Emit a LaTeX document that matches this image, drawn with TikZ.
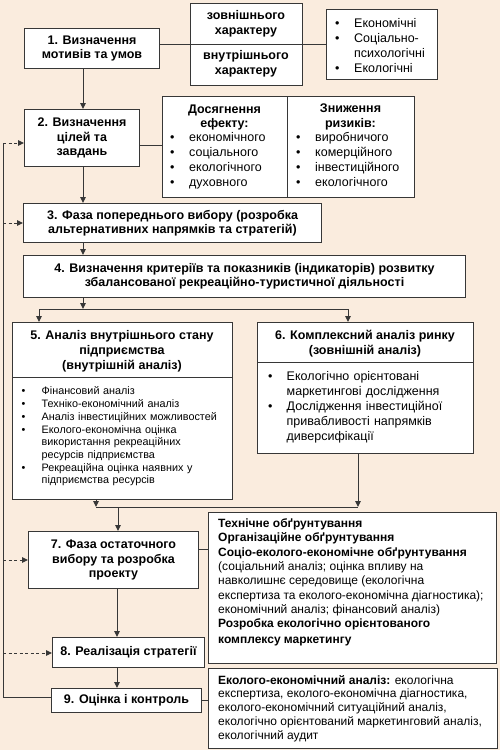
\documentclass[tikz,border=0pt]{standalone}
\usepackage{fontspec}
\setmainfont{Liberation Sans}
\usetikzlibrary{arrows.meta,calc}
\definecolor{bg}{RGB}{250,236,222}
\definecolor{ln}{RGB}{55,55,55}
\newcommand\bu[2]{\par\hangindent=#1\hangafter=1\noindent\makebox[#1][l]{\textbullet}#2\par}
\tikzset{
 bx/.style={draw=ln, fill=white, line width=1pt, inner sep=0pt, anchor=north west, align=center, font=\bfseries\fontsize{12.5}{14.5}\selectfont},
 txtb/.style={inner sep=0pt, align=center, font=\bfseries\fontsize{12.5}{14.8}\selectfont},
 lst/.style={inner sep=0pt, anchor=north west, align=left, text width=#1, font=\fontsize{12.5}{15}\selectfont},
 lsts/.style={inner sep=0pt, anchor=north west, align=left, text width=#1, font=\fontsize{10.8}{12.7}\selectfont},
 con/.style={draw=ln, line width=1pt},
 arr/.style={con, -{Triangle[length=6pt,width=5.5pt]}},
 darr/.style={arr, dash pattern=on 3pt off 2.5pt},
}
\begin{document}
\begin{tikzpicture}[x=1pt,y=-1pt]
\fill[bg] (0,0) rectangle (500,750);
\useasboundingbox (0,0) rectangle (500,750);
% column / row helpers
\coordinate (c83) at (83,0);
\coordinate (c117) at (117,0);
\coordinate (y44) at (0,44);
\coordinate (y145) at (0,145);
\coordinate (y549) at (0,549);
% boxes
\node[bx, minimum width=135pt, minimum height=40pt] (b1) at (24,28) {1. Визначення\\мотивів та умов};
\node[bx, minimum width=112pt, minimum height=82pt] (s) at (190,3) {};
\node[bx, minimum width=111pt, minimum height=70pt] (l1) at (326,9) {};
\node[bx, minimum width=115pt, minimum height=57pt] (b2) at (24,109) {2. Визначення\\цілей та\\завдань};
\node[bx, minimum width=252pt, minimum height=101pt] (g) at (162,96) {};
\node[bx, minimum width=298pt, minimum height=39pt] (b3) at (23,203) {3. Фаза попереднього вибору (розробка\\альтернативних напрямків та стратегій)};
\node[bx, minimum width=442pt, minimum height=42pt] (b4) at (23,255) {4. Визначення критеріїв та показників (індикаторів) розвитку\\збалансованої рекреаційно-туристичної діяльності};
\node[bx, minimum width=220pt, minimum height=177pt] (b5) at (12,322) {};
\node[bx, minimum width=216pt, minimum height=131pt] (b6) at (257,322) {};
\node[bx, minimum width=170pt, minimum height=57pt] (b7) at (28,531) {7. Фаза остаточного\\вибору та розробка\\проекту};
\node[bx, minimum width=288pt, minimum height=151pt] (t) at (208,512) {};
\node[bx, minimum width=152pt, minimum height=30pt] (b8) at (52,637) {8. Реалізація стратегії};
\node[bx, minimum width=150pt, minimum height=24pt] (b9) at (51,688) {9. Оцінка і контроль};
\node[bx, minimum width=289pt, minimum height=80pt] (e) at (208,668) {};
% texts in split boxes
\node[txtb] (s1) at (246,23.5) {зовнішнього\\характеру};
\node[txtb] (s2) at (246,64) {внутрішнього\\характеру};
\node[lst=105pt] (l1t) at (335,12.5) {\bu{19pt}{Економічні}\bu{19pt}{Соціально-\newline психологічні}\bu{19pt}{Екологічні}};
\draw[con] (g.north west) ++(125,0) -- ++(0,101);
\node[txtb] (g1) at (224.5,117.5) {Досягнення\\ефекту:};
\node[txtb] (g2) at (350.5,117) {Зниження\\ризиків:};
\node[lst=115pt] (g1t) at (170,126.5) {\bu{19pt}{економічного}\bu{19pt}{соціального}\bu{19pt}{екологічного}\bu{19pt}{духовного}};
\node[lst=115pt] (g2t) at (296,126.5) {\bu{19pt}{виробничого}\bu{19pt}{комерційного}\bu{19pt}{інвестиційного}\bu{19pt}{екологічного}};
% box 5
\draw[con] (b5.west |- 0,377) -- (b5.east |- 0,377);
\node[txtb] (b5h) at (122,351) {5. Аналіз внутрішнього стану\\підприємства\\(внутрішній аналіз)};
\node[lsts=205pt] (b5t) at (21.5,382) {\bu{20pt}{Фінансовий аналіз}\bu{20pt}{Техніко-економічний аналіз}\bu{20pt}{Аналіз інвестиційних можливостей}\bu{20pt}{Еколого-економічна оцінка\newline використання рекреаційних\newline ресурсів підприємства}\bu{20pt}{Рекреаційна оцінка наявних у\newline підприємства ресурсів}};
% box 6
\draw[con] (b6.west |- 0,362) -- (b6.east |- 0,362);
\node[txtb] (b6h) at (365,343.5) {6. Комплексний аналіз ринку\\(зовнішній аналіз)};
\node[lst=205pt] (b6t) at (268,365) {\bu{18.5pt}{Екологічно орієнтовані\newline маркетингові дослідження}\bu{18.5pt}{Дослідження інвестиційної\newline привабливості напрямків\newline диверсифікації}};
% box T
\node[inner sep=0pt, anchor=north west, align=left, font=\fontsize{12}{14.3}\selectfont] (tt) at (218,518.5) {\textbf{Технічне обґрунтування}\\\textbf{Організаційне обґрунтування}\\\textbf{Соціо-еколого-економічне обґрунтування}\\(соціальний аналіз; оцінка впливу на\\навколишнє середовище (екологічна\\експертиза та еколого-економічна діагностика);\\економічний аналіз; фінансовий аналіз)\\\textbf{Розробка екологічно орієнтованого}\\[1.5pt]\textbf{комплексу маркетингу}};
% box E
\node[inner sep=0pt, anchor=north west, align=left, font=\fontsize{12}{13.8}\selectfont] (et) at (218,675) {\textbf{Еколого-економічний аналіз:} екологічна\\експертиза, еколого-економічна діагностика,\\еколого-економічний ситуаційний аналіз,\\екологічно орієнтований маркетинговий аналіз,\\екологічний аудит};
% connectors
\draw[con] (b1.east |- y44) -- (l1.west |- y44);
\draw[con] (b2.east |- y145) -- (g.west |- y145);
\draw[con] (b7.east |- y549) -- (t.west |- y549);
\draw[con] (b9.east) -- (b9.east -| e.west);
\draw[arr] (b1.south -| c83) -- (b2.north -| c83);
\draw[arr] (b2.south -| c83) -- (b3.north -| c83);
\draw[arr] (b3.south -| c83) -- (b4.north -| c83);
\coordinate (sp) at (83,309);
\coordinate (sl) at (39,309);
\coordinate (sr) at (348,309);
\draw[arr] (b4.south -| sp) -- (sp);
\draw[con] (sl) -- (sr);
\draw[arr] (sl) -- (b5.north -| sl);
\draw[arr] (sr) -- (b6.north -| sr);
\coordinate (ml) at (96,507);
\coordinate (mr) at (358,507);
\coordinate (mm) at (118,507);
\draw[arr] (b5.south -| ml) -- (ml);
\draw[arr] (b6.south -| mr) -- (mr);
\draw[con] (ml) -- (mr);
\draw[arr] (mm) -- (b7.north -| mm);
\draw[arr] (b7.south -| c117) -- (b8.north -| c117);
\draw[arr] (b8.south -| c117) -- (b9.north -| c117);
% feedback
\coordinate (fb) at (3,697);
\coordinate (ft) at (3,143);
\coordinate (f3) at (3,223);
\coordinate (f7) at (3,560);
\coordinate (f8) at (3,653);
\draw[con] (b9.west |- fb) -- (fb) -- (ft);
\draw[darr] (ft) -- (b2.west |- ft);
\draw[darr] (f3) -- (b3.west |- f3);
\draw[darr] (f7) -- (b7.west |- f7);
\draw[darr] (f8) -- (b8.west |- f8);
\end{tikzpicture}
\end{document}
